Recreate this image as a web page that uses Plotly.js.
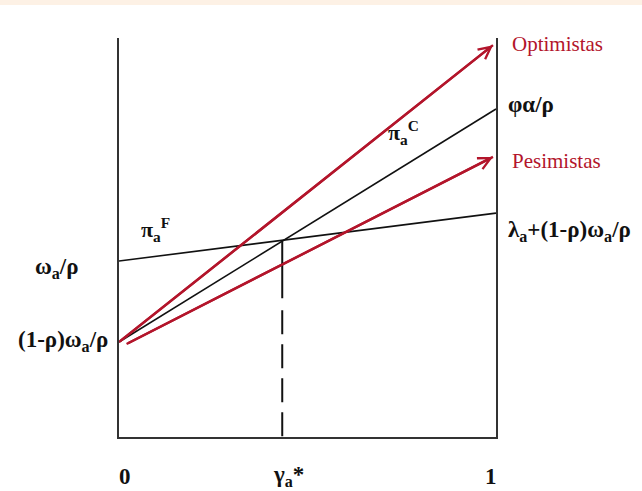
<!DOCTYPE html>
<html>
<head>
<meta charset="utf-8">
<script src="https://cdn.plot.ly/plotly-3.0.1.min.js"></script>
<style>
  html, body { margin: 0; padding: 0; background: #ffffff; }
  #band { position: absolute; left: 0; top: 0; width: 642px; height: 5px; background: #fdf1e5; z-index: 5; }
  #chart { width: 642px; height: 491px; }
</style>
</head>
<body>
<div id="band"></div>
<div id="chart"></div>
<script>
// ---- data (x: gamma share from 0 to 1; y: profit level, arbitrary units) ----
const gammaX = [0, 1];
const piF = [4.41, 5.61];            // pi_a^F : from w/rho to lambda+(1-rho)w/rho
const piC = [2.38, 8.22];            // pi_a^C : from (1-rho)w/rho to phi*alpha/rho
const optX = [0, 0.992];
const optY = [2.38, 9.82];           // Optimistas
const pesX = [0.02, 0.992];
const pesY = [2.33, 7.02];           // Pesimistas
const gammaStar = 0.433;
const dashY = [4.93, 0];

const leftLabels = ['ω<sub>a</sub>/ρ', '(1-ρ)ω<sub>a</sub>/ρ'];
const rightLabels = ['φα/ρ', 'λ<sub>a</sub>+(1-ρ)ω<sub>a</sub>/ρ'];
const groupLabels = ['Optimistas', 'Pesimistas'];
const curveLabels = ['π<sub>a</sub><sup>F</sup>', 'π<sub>a</sub><sup>C</sup>'];
const xTickText = ['0', 'γ<sub>a</sub>*', '1'];

// ---- layout helpers (pixel -> paper) ----
const L = 119, R = 496, T = 38, B = 437, W = 642, H = 491;
const px = p => (p - L) / (R - L);
const py = p => (B - p) / (B - T);

const RED = '#b3152b';
const serif = '"Liberation Serif", "DejaVu Serif", serif';

const traces = [
  { x: gammaX, y: piF, mode: 'lines', line: { color: '#111', width: 1.6 }, hoverinfo: 'skip' },
  { x: gammaX, y: piC, mode: 'lines', line: { color: '#111', width: 1.6 }, hoverinfo: 'skip' },
  { x: optX, y: optY, mode: 'lines', line: { color: RED, width: 2.4 }, hoverinfo: 'skip' },
  { x: pesX, y: pesY, mode: 'lines', line: { color: RED, width: 2.4 }, hoverinfo: 'skip' },
  { x: [gammaStar, gammaStar], y: dashY, mode: 'lines',
    line: { color: '#111', width: 2, dash: '58px,12px,24px,10px,24px,10px,24px,10px,24px,10px' }, hoverinfo: 'skip' }
];

const boldFont = { family: serif, size: 23, color: '#111', weight: 'bold' };
const smallBold = { family: serif, size: 22, color: '#111', weight: 'bold' };
const redFont = { family: serif, size: 21, color: RED, weight: 'normal' };

const ann = [];
// arrowheads
ann.push({ x: optX[1], y: optY[1], ax: optX[0], ay: optY[0], xref: 'x', yref: 'y', axref: 'x', ayref: 'y',
  text: '', showarrow: true, arrowhead: 5, arrowsize: 1.0, arrowwidth: 2.4, arrowcolor: RED, standoff: 0 });
ann.push({ x: pesX[1], y: pesY[1], ax: pesX[0], ay: pesY[0], xref: 'x', yref: 'y', axref: 'x', ayref: 'y',
  text: '', showarrow: true, arrowhead: 5, arrowsize: 1.0, arrowwidth: 2.4, arrowcolor: RED, standoff: 0 });

function lab(text, x, y, xanchor, font) {
  ann.push({ text: text, x: px(x), y: py(y), xref: 'paper', yref: 'paper', xanchor: xanchor, yanchor: 'middle',
    showarrow: false, font: font });
}
lab(groupLabels[0], 510, 44, 'left', redFont);
lab(groupLabels[1], 510, 161, 'left', redFont);
lab(rightLabels[0], 506, 104, 'left', boldFont);
lab(rightLabels[1], 506, 231, 'left', boldFont);
lab(leftLabels[0], 81, 268, 'right', boldFont);
lab(leftLabels[1], 110, 341, 'right', boldFont);
lab(curveLabels[0], 139, 229, 'left', smallBold);
lab(curveLabels[1], 386, 132, 'left', smallBold);
lab(xTickText[0], 125, 476, 'center', boldFont);
lab(xTickText[1], 288, 476, 'center', boldFont);
lab(xTickText[2], 491, 476, 'center', boldFont);

const layout = {
  width: W, height: H,
  margin: { l: L, r: W - R, t: T, b: H - B },
  paper_bgcolor: '#ffffff', plot_bgcolor: '#ffffff',
  showlegend: false,
  font: { family: serif },
  xaxis: { range: [0, 1], showgrid: false, zeroline: false, showticklabels: false, ticks: '',
           showline: true, linecolor: '#333', linewidth: 2, mirror: false, fixedrange: true },
  yaxis: { range: [0, 10], showgrid: false, zeroline: false, showticklabels: false, ticks: '',
           showline: true, linecolor: '#333', linewidth: 2, mirror: true, fixedrange: true },
  annotations: ann
};

Plotly.newPlot('chart', traces, layout, { staticPlot: true, displayModeBar: false });
</script>
</body>
</html>
